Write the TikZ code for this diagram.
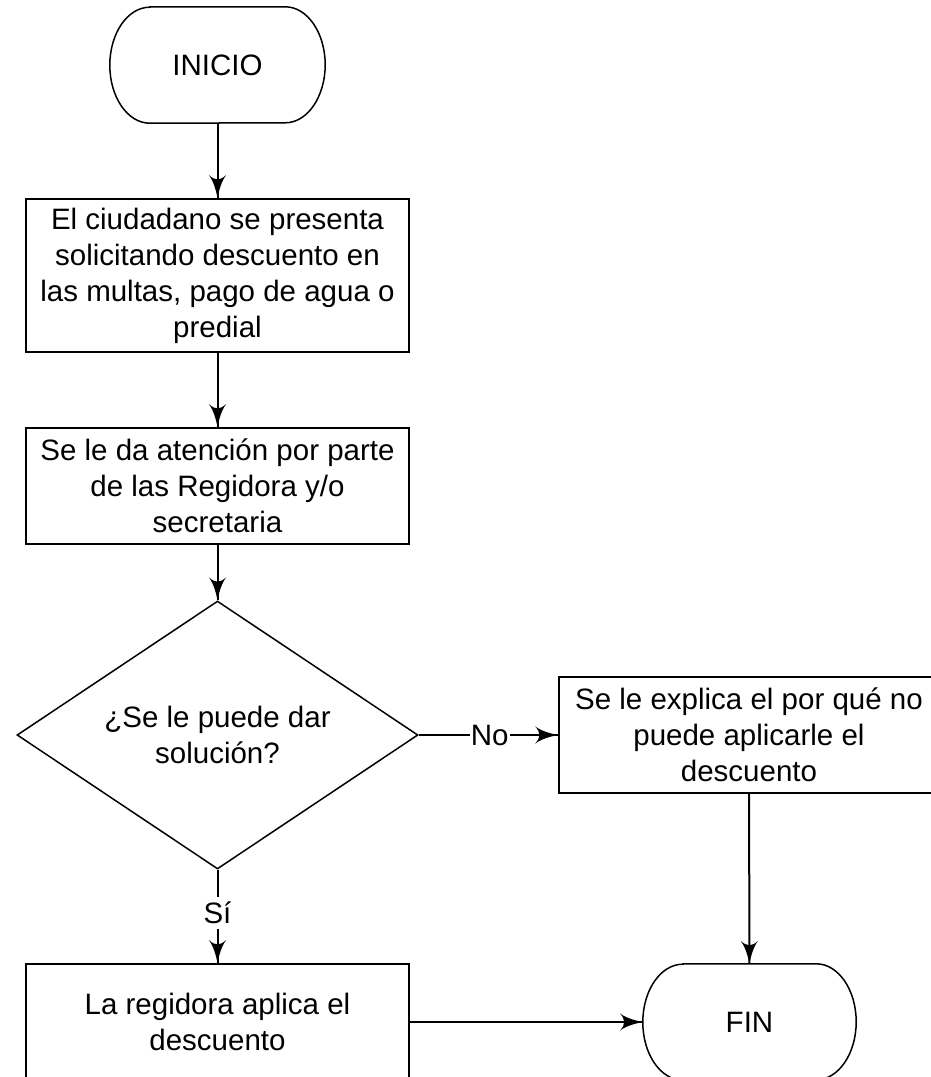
\documentclass[tikz,border=0pt]{standalone}
\usepackage{fontspec}
\setmainfont{Liberation Sans}
\usetikzlibrary{arrows}
\usetikzlibrary{decorations.markings}
\usetikzlibrary{shapes.geometric}
\tikzset{flecha/.style = {line width=2pt,
                          decoration={markings,
                                      mark=at position 1 with {\arrow[scale=2.6]{latex'}}},
                          postaction={decorate}}}
\tikzset{caja/.style = {draw, line width=2pt, minimum width=383pt,
                        minimum height=116pt, inner sep=0pt, align=center}}
\tikzset{terminal/.style = {minimum width=215pt, minimum height=116pt, inner sep=0pt}}
\tikzset{rombo/.style = {diamond, draw, line width=1.5pt, aspect=1.5, minimum width=401pt,
                         minimum height=268pt, inner sep=0pt, align=center}}
\tikzset{etiqueta/.style = {fill=white, inner xsep=1pt, inner ysep=5pt}}
\newcommand{\contorno}[1]{%
  \draw [line width=1.5pt] ([xshift=40pt]#1.north west) -- ([xshift=-40pt]#1.north east)
    arc [start angle=90, end angle=-90, x radius=40pt, y radius=58pt]
    -- ([xshift=40pt]#1.south west)
    arc [start angle=270, end angle=90, x radius=40pt, y radius=58pt] -- cycle;}

\begin{document}
\begin{tikzpicture}[x=1pt, y=-1pt, font=\fontsize{29.5}{36}\selectfont]
      \useasboundingbox (0, 0) rectangle (930, 1077);
      \node [terminal] (inicio) at (217.5, 65) {INICIO};
      \contorno{inicio}
      \node [caja, minimum height=153pt] (ciudadano) at (217.5, 275.5)
            {El ciudadano se presenta\\ solicitando descuento en\\ las multas, pago de agua o\\ predial};
      \node [caja] (atencion) at (217.5, 486)
            {Se le da atención por parte\\ de las Regidora y/o\\ secretaria};
      \node [rombo] (solucion) at (217.5, 735) {¿Se le puede dar\\ solución?};
      \node [caja, minimum width=380pt] (explica) at (749, 735)
            {Se le explica el por qué no\\ puede aplicarle el\\ descuento};
      \node [caja] (aplica) at (217.5, 1022) {La regidora aplica el\\ descuento};
      \node [terminal, minimum width=213pt] (fin) at (749.5, 1022) {FIN};
      \contorno{fin}

      \draw [flecha] (inicio) -- (ciudadano);
      \draw [flecha] (ciudadano) -- (atencion);
      \draw [flecha] (atencion) -- (solucion);
      \draw [flecha] (solucion) -- node [etiqueta, pos=0.51] {No} (explica);
      \draw [flecha] (solucion) -- node [etiqueta, pos=0.46] {Sí} (aplica);
      \draw [flecha] (explica) -- (fin);
      \draw [flecha] (aplica) -- (fin);
    \end{tikzpicture}
\end{document}
